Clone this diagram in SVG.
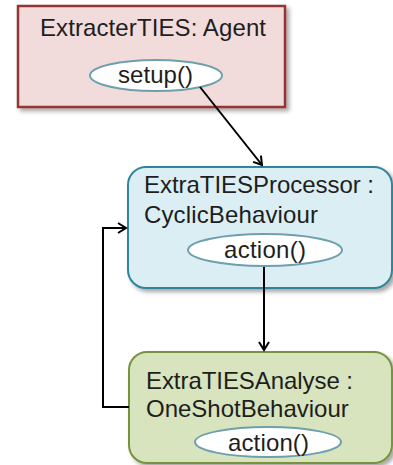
<svg xmlns="http://www.w3.org/2000/svg" width="393" height="465" viewBox="0 0 393 465">
<defs>
<filter id="sh" x="-10%" y="-10%" width="130%" height="130%">
<feDropShadow dx="3" dy="3" stdDeviation="2" flood-color="#000" flood-opacity="0.35"/>
</filter>
<marker id="arr" markerWidth="12" markerHeight="12" refX="10" refY="6" orient="auto" markerUnits="userSpaceOnUse">
<path d="M2,1 L10,6 L2,11" fill="none" stroke="#000" stroke-width="2"/>
</marker>
</defs>
<style>
text{font-family:"Liberation Sans",Arial,sans-serif;font-size:24px;fill:#1e1e1e}
.ell{fill:#fff;stroke:#6e9fad;stroke-width:2}
.con{fill:none;stroke:#000;stroke-width:2}
</style>
<rect width="393" height="465" fill="#fff"/>
<g id="agent">
<rect x="18" y="6" width="267" height="101" fill="#f2dcdb" stroke="#943634" stroke-width="2.5" filter="url(#sh)"/>
<text x="40" y="36" textLength="226">ExtracterTIES: Agent</text>
<ellipse class="ell" cx="156" cy="75.5" rx="66" ry="15.5"/>
<text x="118" y="83" textLength="75">setup()</text>
</g>
<g id="processor">
<rect x="128" y="167" width="264" height="121" rx="18" fill="#dbeef4" stroke="#31849b" stroke-width="2" filter="url(#sh)"/>
<text x="144" y="193" textLength="230">ExtraTIESProcessor :</text>
<text x="144" y="223" textLength="174">CyclicBehaviour</text>
<ellipse class="ell" cx="265" cy="250" rx="77" ry="16"/>
<text x="224" y="258" textLength="82">action()</text>
</g>
<g id="analyse">
<rect x="129" y="352" width="263" height="111" rx="18" fill="#d7e4bd" stroke="#77933c" stroke-width="2" filter="url(#sh)"/>
<text x="146" y="389" textLength="207">ExtraTIESAnalyse :</text>
<text x="146" y="417">OneShotBehaviour</text>
<ellipse class="ell" cx="268" cy="442" rx="73" ry="15"/>
<text x="228" y="451" textLength="81">action()</text>
</g>
<g id="connectors">
<path class="con" d="M200,87 L262,165" marker-end="url(#arr)"/>
<path class="con" d="M264,267 L264,350" marker-end="url(#arr)"/>
<path class="con" d="M129,407 L103,407 L103,228 L126,228" marker-end="url(#arr)"/>
</g>
</svg>
